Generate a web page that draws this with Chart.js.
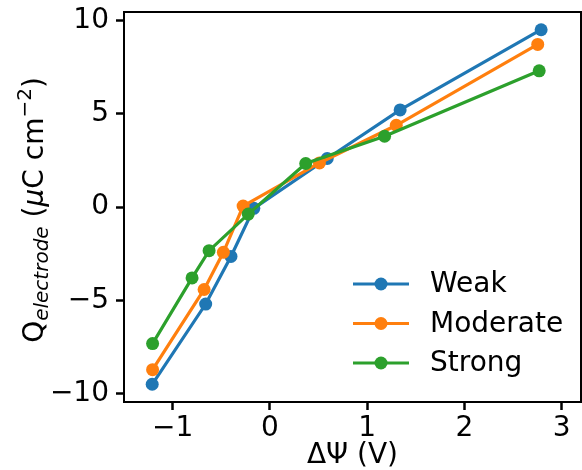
<!DOCTYPE html>
<html>
<head>
<meta charset="utf-8">
<script src="https://cdn.jsdelivr.net/npm/chart.js@4/dist/chart.umd.min.js"></script>
<style>
  body { margin: 0; background: #fff; }
  #wrap { width: 582px; height: 470px; }
</style>
</head>
<body>
<div id="wrap"><canvas id="chart"></canvas></div>
<script>
// data
const seriesNames = ['Weak', 'Moderate', 'Strong'];
const weakX = [-1.21, -0.66, -0.40, -0.165, 0.59, 1.34, 2.79];
const weakY = [-9.5, -5.2, -2.65, -0.07, 2.6, 5.2, 9.5];
const moderateX = [-1.206, -0.676, -0.478, -0.275, 0.51, 1.30, 2.755];
const moderateY = [-8.72, -4.42, -2.43, 0.05, 2.36, 4.38, 8.71];
const strongX = [-1.206, -0.80, -0.625, -0.222, 0.369, 1.18, 2.77];
const strongY = [-7.32, -3.8, -2.34, -0.38, 2.33, 3.79, 7.3];
const xTicks = [-1, 0, 1, 2, 3];
const yTicks = [-10, -5, 0, 5, 10];
const colors = ['#1f77b4', '#ff7f0e', '#2ca02c'];

const FONT = 'DejaVu Sans';
const FS = 28;

function pts(xs, ys) {
  return xs.map((x, i) => ({ x: x, y: ys[i] }));
}
const allX = [weakX, moderateX, strongX];
const allY = [weakY, moderateY, strongY];

const datasets = seriesNames.map((name, i) => ({
  label: name,
  data: pts(allX[i], allY[i]),
  borderColor: colors[i],
  backgroundColor: colors[i],
  borderWidth: 3.2,
  pointRadius: 6.5,
  pointHoverRadius: 6.5,
  pointBorderWidth: 0,
  lineTension: 0,
  order: 3 - i
}));

function minus(v) {
  return String(v).replace('-', '\u2212');
}

// frame, axis titles and legend
const extras = {
  id: 'extras',
  afterDraw(chart) {
    const ctx = chart.ctx;
    const a = chart.chartArea;
    ctx.save();
    ctx.strokeStyle = '#000';
    ctx.lineWidth = 2;
    ctx.strokeRect(a.left, a.top, a.right - a.left, a.bottom - a.top);

    // x title
    ctx.fillStyle = '#000';
    ctx.font = FS + 'px "' + FONT + '"';
    ctx.textAlign = 'center';
    ctx.textBaseline = 'alphabetic';
    ctx.fillText('\u0394\u03a8 (V)', (a.left + a.right) / 2, 463);

    // y title with sub/superscript
    const big = FS + 'px "' + FONT + '"';
    const small = '20px "' + FONT + '"';
    const parts = [
      { t: 'Q', f: big, dy: 0 },
      { t: 'electrode', f: 'italic ' + small, dy: 5 },
      { t: ' (', f: big, dy: 0 },
      { t: '\u03bc', f: 'italic ' + big, dy: 0 },
      { t: 'C cm', f: big, dy: 0 },
      { t: '\u22122', f: small, dy: -12 },
      { t: ')', f: big, dy: 0 }
    ];
    let total = 0;
    parts.forEach(p => { ctx.font = p.f; p.w = ctx.measureText(p.t).width; total += p.w; });
    ctx.translate(43, 210);
    ctx.rotate(-Math.PI / 2);
    ctx.textAlign = 'left';
    let x = -total / 2;
    parts.forEach(p => { ctx.font = p.f; ctx.fillText(p.t, x, p.dy); x += p.w; });
    ctx.restore();

    // legend
    ctx.save();
    ctx.font = FS + 'px "' + FONT + '"';
    ctx.textBaseline = 'middle';
    ctx.textAlign = 'left';
    seriesNames.forEach((name, i) => {
      const y = 284 + i * 39.5;
      ctx.strokeStyle = colors[i];
      ctx.lineWidth = 3.2;
      ctx.beginPath();
      ctx.moveTo(353, y);
      ctx.lineTo(409, y);
      ctx.stroke();
      ctx.fillStyle = colors[i];
      ctx.beginPath();
      ctx.arc(381, y, 6.5, 0, Math.PI * 2);
      ctx.fill();
      ctx.fillStyle = '#000';
      ctx.fillText(name, 430, y + 1);
    });
    ctx.restore();
  }
};

const tickGrid = { display: true, drawOnChartArea: false, drawTicks: true, tickLength: 8, tickWidth: 2.5, tickColor: '#000', color: '#000' };

const ctx = document.getElementById('chart').getContext('2d');
const chart = new Chart(ctx, {
  type: 'line',
  data: { datasets: datasets },
  plugins: [extras],
  options: {
    responsive: true,
    maintainAspectRatio: false,
    animation: false,
    layout: { autoPadding: false, padding: { top: 12, right: 1, left: 0, bottom: 0 } },
    plugins: {
      legend: { display: false },
      tooltip: { enabled: false }
    },
    scales: {
      x: {
        type: 'linear',
        min: -1.5,
        max: 3.2,
        afterBuildTicks: s => { s.ticks = xTicks.map(v => ({ value: v })); },
        afterFit: s => { s.height = 68; s.paddingLeft = 0; s.paddingRight = 0; },
        grid: tickGrid,
        border: { display: false },
        ticks: {
          color: '#000',
          font: { family: FONT, size: FS },
          padding: 2,
          maxRotation: 0,
          callback: v => minus(v)
        }
      },
      y: {
        type: 'linear',
        min: -10.45,
        max: 10.45,
        afterBuildTicks: s => { s.ticks = yTicks.map(v => ({ value: v })); },
        afterFit: s => { s.width = 124; s.paddingTop = 0; s.paddingBottom = 0; },
        grid: tickGrid,
        border: { display: false },
        ticks: {
          color: '#000',
          font: { family: FONT, size: FS },
          padding: 7,
          callback: v => minus(v)
        }
      }
    }
  }
});
</script>
</body>
</html>
